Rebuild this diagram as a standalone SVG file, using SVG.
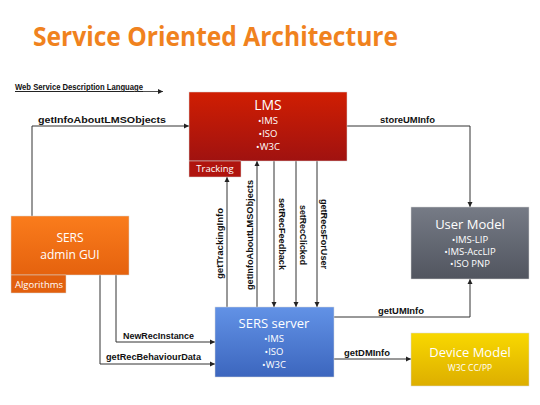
<svg xmlns="http://www.w3.org/2000/svg" width="540" height="405" viewBox="0 0 540 405">
<defs>
<linearGradient id="gRed" x1="0" y1="0" x2="0" y2="1"><stop offset="0" stop-color="#D01E02"/><stop offset="1" stop-color="#A01210"/></linearGradient>
<linearGradient id="gOr" x1="0" y1="0" x2="0" y2="1"><stop offset="0" stop-color="#FA7C1C"/><stop offset="1" stop-color="#E5620E"/></linearGradient>
<linearGradient id="gBl" x1="0" y1="0" x2="0" y2="1"><stop offset="0" stop-color="#6292E6"/><stop offset="1" stop-color="#3C66BE"/></linearGradient>
<linearGradient id="gGr" x1="0" y1="0" x2="0" y2="1"><stop offset="0" stop-color="#767B86"/><stop offset="1" stop-color="#51555F"/></linearGradient>
<linearGradient id="gYe" x1="0" y1="0" x2="0" y2="1"><stop offset="0" stop-color="#F8D800"/><stop offset="1" stop-color="#DDAE00"/></linearGradient>
<marker id="ah" markerWidth="6" markerHeight="6" refX="5" refY="3" orient="auto" markerUnits="userSpaceOnUse"><path d="M0,0.5 L5,3 L0,5.5 Z" fill="#222"/></marker>
</defs>
<style>
.t{font-family:"Open Sans","Liberation Sans",sans-serif;fill:#fff;text-anchor:middle}
.h{font-size:14px}
.b{font-size:9.5px}
.lbl{font-family:"Liberation Sans","DejaVu Sans",sans-serif;font-size:9px;font-weight:bold;fill:#111}
.c{fill:none;stroke:#333;stroke-width:1}
.box{stroke:#d8d8d8;stroke-width:0.5}
</style>
<rect width="540" height="405" fill="#fff"/>
<text x="33" y="46" font-family="'Open Sans','Liberation Sans',sans-serif" font-size="26" font-weight="bold" fill="#F0821E" textLength="365" lengthAdjust="spacingAndGlyphs">Service Oriented Architecture</text>
<g id="wsdl">
<text x="15" y="90" class="lbl" font-size="7.5" text-decoration="underline" textLength="128" lengthAdjust="spacingAndGlyphs">Web Service Description Language</text>
<line x1="15" y1="91.5" x2="163" y2="91.5" stroke="#222" stroke-width="0.8" marker-end="url(#ah)"/>
</g>
<g id="connectors">
<polyline class="c" points="32,216 32,126 189,126" marker-end="url(#ah)"/>
<polyline class="c" points="347,126 470,126 470,207" marker-end="url(#ah)"/>
<polyline class="c" points="334,317 470,317 470,279" marker-end="url(#ah)"/>
<line class="c" x1="334" y1="359" x2="411" y2="359" marker-end="url(#ah)"/>
<polyline class="c" points="116,275 116,342 215,342" marker-end="url(#ah)"/>
<polyline class="c" points="100,275 100,364 215,364" marker-end="url(#ah)"/>
<line class="c" x1="227" y1="307" x2="227" y2="177" marker-end="url(#ah)"/>
<line class="c" x1="257" y1="307" x2="257" y2="161" marker-end="url(#ah)"/>
<line class="c" x1="274" y1="161" x2="274" y2="307" marker-end="url(#ah)"/>
<line class="c" x1="296" y1="161" x2="296" y2="307" marker-end="url(#ah)"/>
<line class="c" x1="317" y1="161" x2="317" y2="307" marker-end="url(#ah)"/>
<text class="lbl" x="38" y="123" textLength="128" lengthAdjust="spacingAndGlyphs">getInfoAboutLMSObjects</text>
<text class="lbl" x="380" y="123" textLength="55" lengthAdjust="spacingAndGlyphs">storeUMInfo</text>
<text class="lbl" x="378" y="314" textLength="46" lengthAdjust="spacingAndGlyphs">getUMInfo</text>
<text class="lbl" x="344" y="356" textLength="46" lengthAdjust="spacingAndGlyphs">getDMInfo</text>
<text class="lbl" x="123" y="339" textLength="71" lengthAdjust="spacingAndGlyphs">NewRecInstance</text>
<text class="lbl" x="106" y="360" textLength="95" lengthAdjust="spacingAndGlyphs">getRecBehaviourData</text>
<text class="lbl" transform="translate(223,279) rotate(-90)" textLength="71" lengthAdjust="spacingAndGlyphs">getTrackingInfo</text>
<text class="lbl" transform="translate(253,290) rotate(-90)" textLength="110" lengthAdjust="spacingAndGlyphs">getInfoAboutLMSObjects</text>
<text class="lbl" transform="translate(279,198) rotate(90)" textLength="72" lengthAdjust="spacingAndGlyphs">setRecFeedback</text>
<text class="lbl" transform="translate(300,205) rotate(90)" textLength="60" lengthAdjust="spacingAndGlyphs">setRecClicked</text>
<text class="lbl" transform="translate(321,199) rotate(90)" textLength="70" lengthAdjust="spacingAndGlyphs">getRecsForUser</text>
</g>
<g id="lms">
<rect class="box" x="189" y="92" width="158" height="69" fill="url(#gRed)"/>
<rect x="189" y="161" width="52" height="16" fill="#B0140E" stroke="#d8d8d8" stroke-width="0.5"/>
<text class="t h" x="268" y="110">LMS</text>
<text class="t b" x="268" y="124">•IMS</text>
<text class="t b" x="268" y="137">•ISO</text>
<text class="t b" x="268" y="150">•W3C</text>
<text class="t" x="215" y="172" font-size="9.5">Tracking</text>
</g>
<g id="sers-admin">
<rect class="box" x="11" y="216" width="118" height="59" fill="url(#gOr)"/>
<rect x="11" y="275" width="55" height="18" fill="#E2600E" stroke="#d8d8d8" stroke-width="0.5"/>
<text class="t" x="70" y="242" font-size="12">SERS</text>
<text class="t" x="70" y="259" font-size="12">admin GUI</text>
<text class="t" x="39" y="288" font-size="9.5">Algorithms</text>
</g>
<g id="sers-server">
<rect class="box" x="215" y="307" width="119" height="70" fill="url(#gBl)"/>
<text class="t" x="274" y="328" font-size="13">SERS server</text>
<text class="t b" x="274" y="342">•IMS</text>
<text class="t b" x="274" y="355">•ISO</text>
<text class="t b" x="274" y="368">•W3C</text>
</g>
<g id="user-model">
<rect class="box" x="411" y="207" width="118" height="72" fill="url(#gGr)"/>
<text class="t" x="470" y="229" font-size="13">User Model</text>
<text class="t b" x="470" y="243">•IMS-LIP</text>
<text class="t b" x="470" y="255">•IMS-AccLIP</text>
<text class="t b" x="470" y="267">•ISO PNP</text>
</g>
<g id="device-model">
<rect class="box" x="411" y="333" width="118" height="53" fill="url(#gYe)"/>
<text class="t" x="470" y="357" font-size="13" fill="#FFF4C0">Device Model</text>
<text class="t" x="470" y="371" font-size="8.5" fill="#FFF4C0">W3C CC/PP</text>
</g>
</svg>
